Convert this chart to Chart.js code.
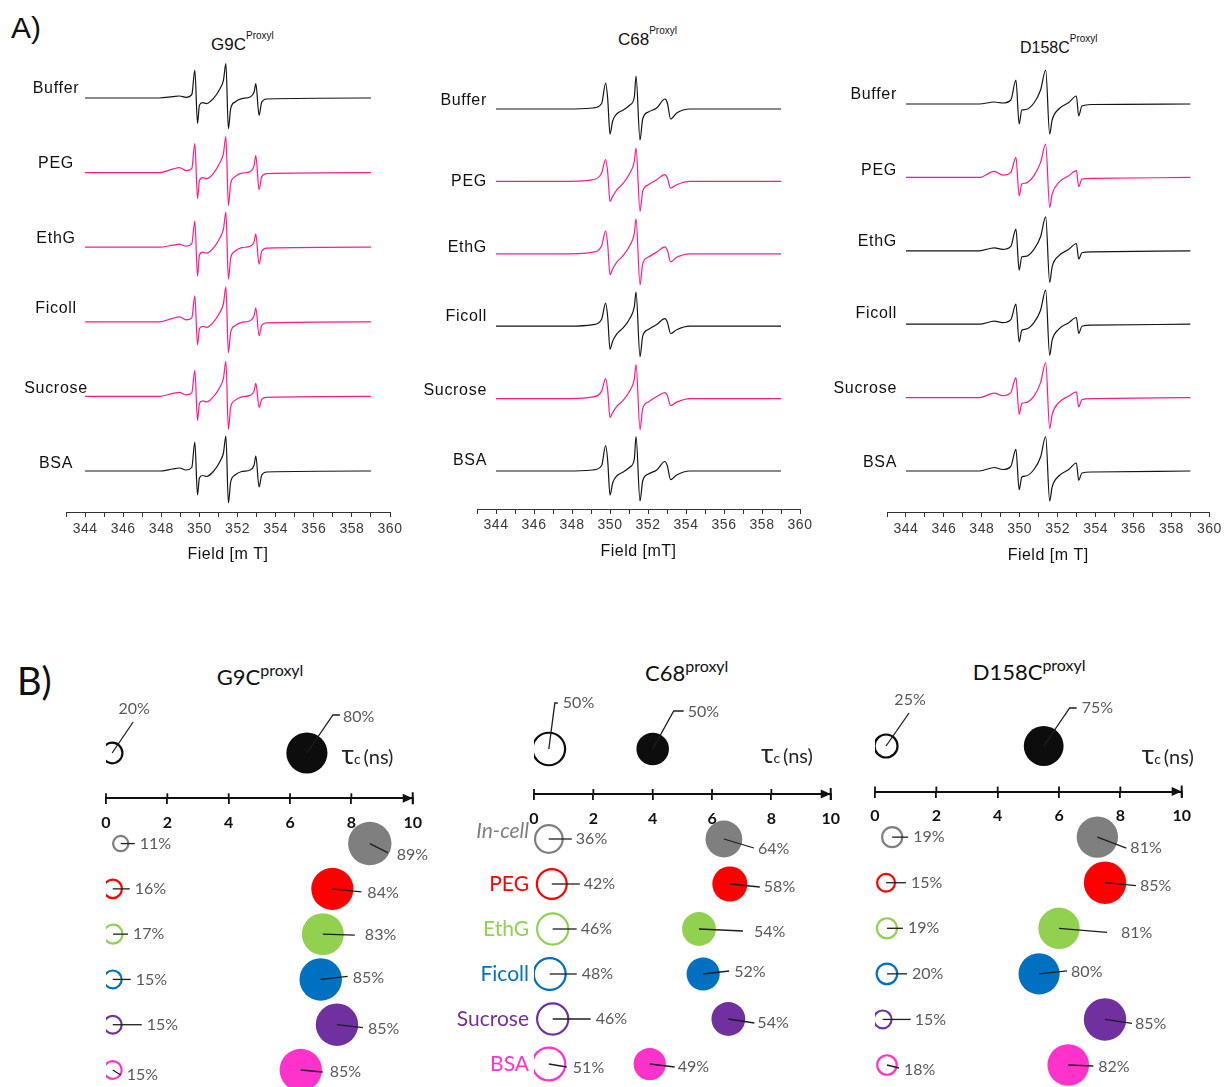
<!DOCTYPE html>
<html>
<head>
<meta charset="utf-8">
<script src="https://cdn.jsdelivr.net/npm/chart.js@4.4.1/dist/chart.umd.min.js"></script>
<style>
  html, body { margin: 0; padding: 0; background: #fff; }
  #page { position: relative; width: 1225px; height: 1087px; overflow: hidden; background: #fff; }
  #page canvas { position: absolute; }
  .lbl { position: absolute; white-space: nowrap; line-height: 1; color: #111; }
  .ta { font-family: "Liberation Sans", Arial, sans-serif; }
  .tb { font-family: Lato, "Open Sans", sans-serif; }
  .supA { font-size: 10px; position: relative; top: -11px; }
  .supB { font-size: 16px; position: relative; top: -9px; }
</style>
</head>
<body>
<div id="page">
  <div class="lbl ta" style="left:11px;top:13px;font-size:30px;">A)</div>
  <div class="lbl ta" style="left:211px;top:35.6px;font-size:17px;">G9C<span class="supA">Proxyl</span></div>
  <div class="lbl ta" style="left:618px;top:30.6px;font-size:17px;">C68<span class="supA">Proxyl</span></div>
  <div class="lbl ta" style="left:1020px;top:39.5px;font-size:16px;">D158C<span class="supA">Proxyl</span></div>

  <div class="lbl tb" style="left:17px;top:661px;font-size:38px;">B)</div>
  <div class="lbl tb" style="left:216.7px;top:666.2px;font-size:22px;">G9C<span class="supB">proxyl</span></div>
  <div class="lbl tb" style="left:645px;top:662.2px;font-size:22px;">C68<span class="supB">proxyl</span></div>
  <div class="lbl tb" style="left:972.7px;top:660.5px;font-size:22px;">D158C<span class="supB">proxyl</span></div>
</div>

<script>
// ===================== Part A: CW-EPR spectra =====================
const conditionsA = ['Buffer', 'PEG', 'EthG', 'Ficoll', 'Sucrose', 'BSA'];
const fieldTicks = [344, 346, 348, 350, 352, 354, 356, 358, 360];

// G9C-proxyl: magnetic field (mT) and derivative intensity for each condition
const fieldG9C = [344, 347.9, 348.6, 348.95, 349.3, 349.6, 349.76, 349.9, 350.0, 350.17, 350.38, 350.73, 351.08, 351.26, 351.39, 351.52, 351.64, 351.87, 352.22, 352.66, 352.87, 352.96, 353.13, 353.27, 353.53, 359];
const g9cBuffer  = [0, 0, 1.3, 2, 0.7, 3.3, 28, -25.5, -7.3, -4.7, -5.6, -0.6, 9.3, 17.7, 34.3, -30.6, -10.7, -4, -0.6, 1, 6, 14.3, -17.3, -4, -1, 0];
const g9cPEG     = [0, 0, 3.5, 5, 2, 4, 29, -26, -8, -5, -6, -1, 10, 19, 36, -33, -11, -4, -0.5, 1, 7, 17, -17, -4, -1, 0];
const g9cEthG    = [0, 0, 2, 3, 1, 3.5, 26, -29, -8, -5, -6, -1, 9.5, 18, 35, -32, -11, -4, -0.5, 1, 5.5, 13, -17, -4, -1, 0];
const g9cFicoll  = [0, 0, 3.5, 5, 2, 4, 26, -23, -7, -4.5, -5.5, -0.5, 9.5, 18, 35, -31, -10.5, -4, -0.5, 1, 6, 14, -14, -3.5, -1, 0];
const g9cSucrose = [0, 0, 3, 4, 1.5, 3.5, 26, -24, -7, -4.5, -5.5, -0.5, 9.5, 18, 35, -33, -11, -4, -0.5, 1, 5.5, 13, -11, -3, -1, 0];
const g9cBSA     = [0, 0, 2, 3, 1, 3.5, 29, -24, -7, -4.5, -5.5, -0.5, 9.5, 18, 35, -32, -11, -4, -0.5, 1, 6, 15, -16, -4, -1, 0];

// C68-proxyl
const fieldC68 = [344, 347.9, 349.1, 349.56, 349.77, 349.88, 350.0, 350.14, 350.35, 350.7, 351.05, 351.28, 351.37, 351.58, 351.72, 352.02, 352.46, 352.89, 353.02, 353.19, 353.51, 354.2, 359];
const c68Buffer  = [0, 0, 1, 5.5, 26, 10, -25, -12, -5, -1, 4, 12, 33, -31, -10, -3, 1, 10, 6, -10, -4, 0, 0];
const c68PEG     = [0, 0, 1.7, 8.3, 21.7, 9, -20, -15, -8.7, -1.7, 8.3, 20, 33.3, -30, -10, -3.3, 1.7, 6.7, 3.3, -6.7, -3.3, 0, 0];
const c68EthG    = [0, 0, 1.7, 8, 23, 9, -21, -15, -8.5, -1.5, 8.5, 20.5, 35, -31, -10, -3.3, 1.7, 7, 3.5, -8, -3.5, 0, 0];
const c68Ficoll  = [0, 0, 1.5, 7, 23, 9, -23, -15, -8, -1.5, 8, 19.5, 34, -30.5, -10, -3.3, 1.7, 7.5, 4, -7.3, -3.5, 0, 0];
const c68Sucrose = [0, 0, 1.7, 7.5, 20, 8, -19, -14, -8, -1.5, 8, 19.5, 34, -31, -10, -3.3, 2, 6, 3, -7, -3.5, 0, 0];
const c68BSA     = [0, 0, 1, 5.5, 25.5, 10, -24, -12, -5, -1, 4, 12, 34.5, -30, -10, -3, 1, 9.5, 5, -8.7, -4, 0, 0];

// D158C-proxyl
const fieldD158C = [344, 347.87, 348.66, 349.1, 349.53, 349.8, 349.97, 350.11, 350.32, 350.75, 351.1, 351.37, 351.58, 351.71, 352.06, 352.59, 352.99, 353.11, 353.28, 353.8, 359];
const d158Buffer  = [0, 0, 2, 1, 4, 24, -20, -6, -5.5, 1, 14, 34, -30, -16, -5, 1.5, 8, -12, -2, -0.5, 0];
const d158PEG     = [0, 0, 6, 2.3, 5, 20, -18.3, -6.7, -5.7, 1.7, 15, 33.3, -30, -16.7, -5, 1.7, 6.7, -9.3, -1.7, -1, 0];
const d158EthG    = [0, 0, 3, 1.5, 4.5, 21.7, -19.3, -6, -5.5, 1.5, 14, 34, -31.5, -16, -5, 1.5, 7.3, -8.3, -2, -1, 0];
const d158Ficoll  = [0, 0, 3, 1.5, 4.5, 20, -17.7, -6, -5, 1.5, 14, 34, -31, -16, -5, 1.5, 6.7, -9.3, -2, -1, 0];
const d158Sucrose = [0, 0, 4.5, 2, 5, 20, -16.7, -6, -5, 1.5, 15, 35, -31, -17, -5, 1.5, 5.7, -9.3, -2, -1, 0];
const d158BSA     = [0, 0, 3.5, 1.5, 4.5, 21.7, -18.7, -6, -5, 1.5, 14, 34.5, -30, -16, -5, 1.5, 8, -9.3, -2, -1, 0];

// ===================== Part B: rotational correlation times =====================
const rowsB = ['Buffer', 'In-cell', 'PEG', 'EthG', 'Ficoll', 'Sucrose', 'BSA'];
const tauTicks = [0, 2, 4, 6, 8, 10];

const g9cTauFast = [0.2, 0.48, 0.22, 0.23, 0.22, 0.22, 0.22];
const g9cTauSlow = [6.55, 8.6, 7.38, 7.07, 7.0, 7.53, 6.35];
const g9cPctFast = [20, 11, 16, 17, 15, 15, 15];
const g9cPctSlow = [80, 89, 84, 83, 85, 85, 85];

const c68TauFast = [0.5, 0.5, 0.6, 0.63, 0.53, 0.63, 0.5];
const c68TauSlow = [4.0, 6.4, 6.6, 5.56, 5.7, 6.55, 3.9];
const c68PctFast = [50, 36, 42, 46, 48, 46, 51];
const c68PctSlow = [50, 64, 58, 54, 52, 54, 49];

const d158TauFast = [0.36, 0.56, 0.36, 0.39, 0.39, 0.25, 0.39];
const d158TauSlow = [5.5, 7.25, 7.5, 6.0, 5.35, 7.5, 6.3];
const d158PctFast = [25, 19, 15, 19, 20, 15, 18];
const d158PctSlow = [75, 81, 85, 81, 80, 85, 82];

// ---------------- styling ----------------
const BLACK = '#151515';
const PINK = '#ff1a8c';
const rowColorsB = ['#0d0d0d', '#7f7f7f', '#ff0000', '#92d050', '#0070c0', '#7030a0', '#ff33cc'];
const FONT_A = '"Liberation Sans", Arial, sans-serif';
const FONT_B = 'Lato, "Open Sans", sans-serif';

Chart.defaults.font.family = FONT_B;

const page = document.getElementById('page');
function placeCanvas(box) {
  const c = document.createElement('canvas');
  c.width = box.width; c.height = box.height;
  c.style.left = box.left + 'px'; c.style.top = box.top + 'px';
  c.style.width = box.width + 'px'; c.style.height = box.height + 'px';
  page.appendChild(c);
  return c;
}

// condition names at the left of each stacked trace
const traceLabelPlugin = {
  id: 'traceLabels',
  beforeDraw(chart) { chart.ctx.letterSpacing = '0.5px'; },
  afterDatasetsDraw(chart, args, o) {
    const ctx = chart.ctx, y = chart.scales.y;
    ctx.save();
    ctx.letterSpacing = '0.7px';
    ctx.font = '16px ' + FONT_A;
    ctx.fillStyle = '#111';
    ctx.textAlign = o.align;
    ctx.textBaseline = 'middle';
    o.names.forEach((n, i) => ctx.fillText(n, o.x, y.getPixelForValue(o.offsets[i]) + o.dy[i]));
    ctx.restore();
  }
};

function makeSpectrumChart(box, spec) {
  const canvas = placeCanvas(box);
  const yMax = box.axisY - box.top;
  const base = box.axisY - box.lastBaseline;
  const n = spec.traces.length;
  const offsets = spec.traces.map((t, i) => base + (n - 1 - i) * box.spacing);
  const datasets = spec.traces.map((amp, i) => ({
    data: spec.field.map((f, k) => ({ x: f, y: offsets[i] + amp[k] })),
    borderColor: spec.colors[i],
    borderWidth: 1.2,
    pointRadius: 0,
    cubicInterpolationMode: 'monotone',
    fill: false,
    clip: false
  }));
  new Chart(canvas, {
    type: 'line',
    data: { datasets },
    options: {
      responsive: false, animation: false, events: [],
      layout: { autoPadding: false, padding: { left: box.px343 - box.left, right: box.left + box.width - box.px360, top: 0, bottom: 0 } },
      scales: {
        x: {
          type: 'linear', min: 343, max: 360,
          afterFit: s => { s.height = box.top + box.height - box.axisY; },
          ticks: {
            stepSize: 1, autoSkip: false, maxRotation: 0, padding: box.tickPad,
            color: '#3a3a3a', font: { family: FONT_A, size: 14 },
            callback: v => (fieldTicks.includes(v) ? String(v) : '')
          },
          grid: { drawOnChartArea: false, drawTicks: true, tickLength: 5, color: '#333', lineWidth: 1 },
          border: { display: true, color: '#333', width: 1 },
          title: { display: true, text: spec.xTitle, color: '#111', font: { family: FONT_A, size: 16 }, padding: { top: 0, bottom: box.titlePad } }
        },
        y: { type: 'linear', display: false, min: 0, max: yMax }
      },
      plugins: {
        legend: { display: false }, tooltip: { enabled: false },
        traceLabels: { names: conditionsA, offsets, x: box.labelX, align: box.labelAlign, dy: box.labelDy }
      }
    },
    plugins: [traceLabelPlugin]
  });
}

makeSpectrumChart(
  { left: 0, top: 50, width: 410, height: 525, axisY: 512, px343: 66, px360: 390, lastBaseline: 471, spacing: 74.6,
    tickPad: 4, titlePad: 11, labelX: 56, labelAlign: 'center', labelDy: [-9, -9, -9, -13, -8, -7] },
  { field: fieldG9C, traces: [g9cBuffer, g9cPEG, g9cEthG, g9cFicoll, g9cSucrose, g9cBSA],
    colors: [BLACK, PINK, PINK, PINK, PINK, BLACK], xTitle: 'Field [m T]' }
);
makeSpectrumChart(
  { left: 412, top: 50, width: 410, height: 525, axisY: 509, px343: 477, px360: 800, lastBaseline: 471, spacing: 72.4,
    tickPad: 3, titlePad: 14, labelX: 75, labelAlign: 'right', labelDy: [-8, 0, -6, -10, -8, -10] },
  { field: fieldC68, traces: [c68Buffer, c68PEG, c68EthG, c68Ficoll, c68Sucrose, c68BSA],
    colors: [BLACK, PINK, PINK, BLACK, PINK, BLACK], xTitle: 'Field [mT]' }
);
makeSpectrumChart(
  { left: 825, top: 50, width: 400, height: 525, axisY: 512, px343: 887, px360: 1211.7, lastBaseline: 471, spacing: 73.4,
    tickPad: 4, titlePad: 10, labelX: 72, labelAlign: 'right', labelDy: [-9, -7, -9, -11, -9, -8] },
  { field: fieldD158C, traces: [d158Buffer, d158PEG, d158EthG, d158Ficoll, d158Sucrose, d158BSA],
    colors: [BLACK, PINK, BLACK, BLACK, PINK, BLACK], xTitle: 'Field [m T]' }
);

// ---------------- part B decorations ----------------
// leader: [points relative to bubble centre], [text offset], alignment
const leadersG9C = {
  fast: [[[[21, -31]], [22, -44], 'center'], [[[14, 0]], [19, 0]], [[[17, 0]], [22, 0]], [[[15, 0]], [20, 0]],
         [[[18, 0]], [23, 0]], [[[29, 0]], [34, 0]], [[[8, 5]], [14, 5]]],
  slow: [[[[26, -38], [33, -38]], [36, -36]], [[[18, 9]], [27, 11]], [[[29, 3]], [35, 4]], [[[32, 1]], [42, 1]],
         [[[27, -3]], [32, -2]], [[[26, 3]], [31, 4]], [[[22, 2]], [29, 2]]]
};
const leadersC68 = {
  fast: [[[[6, -46], [9, -46]], [14, -46]], [[[23, 0]], [27, 0]], [[[28, 0]], [32, 0]], [[[24, 0]], [28, 0]],
         [[[27, 0]], [32, 0]], [[[38, 0]], [43, 0]], [[[18, 3]], [24, 4]]],
  slow: [[[[21, -38], [31, -38]], [35, -37]], [[[30, 9]], [34, 10]], [[[30, 3]], [34, 3]], [[[44, 2]], [55, 3]],
         [[[26, -3]], [31, -2]], [[[26, 4]], [29, 4]], [[[25, 3]], [28, 3]]]
};
const leadersD158C = {
  fast: [[[[23, -33]], [24, -46], 'center'], [[[16, 0]], [21, 0]], [[[20, 0]], [25, 0]], [[[16, 0]], [21, 0]],
         [[[20, 0]], [25, 0]], [[[28, 0]], [32, 0]], [[[12, 3]], [17, 5]]],
  slow: [[[[26, -38], [33, -38]], [38, -38]], [[[29, 11]], [33, 11]], [[[31, 3]], [35, 3]], [[[48, 4]], [62, 5]],
         [[[28, -3]], [32, -2]], [[[27, 4]], [30, 4]], [[[25, 1]], [30, 2]]]
};

const tauPlugin = {
  id: 'tauDecor',
  afterDraw(chart, args, o) {
    const { ctx, scales: { x, y } } = chart;
    const ay = y.getPixelForValue(1);
    ctx.save();
    // upper halves of the axis tick marks
    ctx.strokeStyle = '#111'; ctx.fillStyle = '#111'; ctx.lineWidth = 1.8;
    tauTicks.forEach(v => {
      if (v >= 10) return;
      const px = x.getPixelForValue(v);
      ctx.beginPath(); ctx.moveTo(px, ay - 5); ctx.lineTo(px, ay); ctx.stroke();
    });
    // arrow head and end bar
    const pe = x.getPixelForValue(10);
    ctx.beginPath(); ctx.moveTo(pe, ay); ctx.lineTo(pe - 10, ay - 4.5); ctx.lineTo(pe - 10, ay + 4.5); ctx.closePath(); ctx.fill();
    ctx.lineWidth = 2;
    ctx.beginPath(); ctx.moveTo(pe, ay - 6); ctx.lineTo(pe, ay + 6); ctx.stroke();

    // axis name
    const tx = x.getPixelForValue(o.tau.x), tyb = y.getPixelForValue(o.tau.y) + 6;
    ctx.textBaseline = 'alphabetic'; ctx.textAlign = 'left'; ctx.fillStyle = '#262626';
    ctx.font = '26px "Noto Sans", "Open Sans", sans-serif';
    ctx.fillText('τ', tx, tyb);
    ctx.font = '14px ' + FONT_B;
    ctx.fillText('c', tx + 12.5, tyb);
    ctx.font = '20px ' + FONT_B;
    ctx.fillText('(ns)', tx + 22, tyb);

    // leader lines and percentages
    ctx.strokeStyle = '#1e1e1e'; ctx.lineWidth = 1.3;
    ctx.font = '16px ' + FONT_B; ctx.fillStyle = '#595959'; ctx.textBaseline = 'middle';
    [o.leaders.fast, o.leaders.slow].forEach((specs, di) => {
      const meta = chart.getDatasetMeta(di);
      specs.forEach((s, j) => {
        const el = meta.data[j];
        const cx = el.x, cy = el.y;
        ctx.beginPath(); ctx.moveTo(cx, cy);
        s[0].forEach(([dx, dy]) => ctx.lineTo(cx + dx, cy + dy));
        ctx.stroke();
        ctx.textAlign = s[2] || 'left';
        ctx.fillText(o.pct[di][j] + '%', cx + s[1][0], cy + s[1][1]);
      });
    });

    // condition names
    if (o.rowLabels) {
      ctx.textAlign = 'right'; ctx.textBaseline = 'middle';
      const lx = x.getPixelForValue(0) - 5;
      rowsB.forEach((name, i) => {
        if (i === 0) return;
        ctx.font = (i === 1 ? 'italic ' : '') + '21px ' + FONT_B;
        ctx.fillStyle = rowColorsB[i];
        ctx.fillText(name, lx, y.getPixelForValue(i + 1) + (i === 1 ? -8 : 0));
      });
    }
    ctx.restore();
  }
};

function makeTauChart(box, panel) {
  const canvas = placeCanvas(box);
  const unit = (box.pyBottom - box.pyTop) / 7;
  const yMin = -(box.pyTop - box.top) / unit;
  const yMax = 7 + (box.top + box.height - box.pyBottom) / unit;
  const rowY = i => (i === 0 ? 0 : i + 1);
  const radius = p => 2.3 * Math.sqrt(p);
  const fast = panel.tauFast.map((t, i) => ({ x: t, y: rowY(i), r: radius(panel.pctFast[i]) }));
  const slow = panel.tauSlow.map((t, i) => ({ x: t, y: rowY(i), r: radius(panel.pctSlow[i]) }));
  const clip = { left: 0, top: false, right: false, bottom: false };
  new Chart(canvas, {
    type: 'bubble',
    data: {
      datasets: [
        { label: 'fast', data: fast, backgroundColor: 'rgba(255,255,255,0)', borderColor: rowColorsB, borderWidth: 2.2, clip },
        { label: 'slow', data: slow, backgroundColor: rowColorsB, borderColor: rowColorsB, borderWidth: 0, clip }
      ]
    },
    options: {
      responsive: false, animation: false, events: [],
      layout: { autoPadding: false, padding: { left: box.px0 - box.left, right: box.left + box.width - box.px10, top: 0, bottom: 0 } },
      scales: {
        x: {
          type: 'linear', min: 0, max: 10, position: { y: 1 },
          afterBuildTicks: s => { s.ticks = tauTicks.map(v => ({ value: v })); },
          ticks: { autoSkip: false, maxRotation: 0, padding: 10, color: '#111', font: { family: FONT_B, size: 16, weight: 'bold' } },
          grid: { drawOnChartArea: false, drawTicks: true, tickLength: 5, color: '#111', lineWidth: 1.8 },
          border: { display: true, color: '#111', width: 2 }
        },
        y: { type: 'linear', display: false, min: yMin, max: yMax, reverse: true }
      },
      plugins: {
        legend: { display: false }, tooltip: { enabled: false },
        tauDecor: { leaders: panel.leaders, pct: [panel.pctFast, panel.pctSlow], tau: panel.tau, rowLabels: panel.rowLabels }
      }
    },
    plugins: [tauPlugin]
  });
}

makeTauChart(
  { left: 0, top: 645, width: 432, height: 442, px0: 106, px10: 413, pyTop: 753, pyBottom: 1070 },
  { tauFast: g9cTauFast, tauSlow: g9cTauSlow, pctFast: g9cPctFast, pctSlow: g9cPctSlow,
    leaders: leadersG9C, tau: { x: 7.68, y: 0.11 }, rowLabels: false }
);
makeTauChart(
  { left: 420, top: 645, width: 430, height: 442, px0: 534, px10: 838.3, pyTop: 749, pyBottom: 1064 },
  { tauFast: c68TauFast, tauSlow: c68TauSlow, pctFast: c68PctFast, pctSlow: c68PctSlow,
    leaders: leadersC68, tau: { x: 7.65, y: 0.18 }, rowLabels: true }
);
makeTauChart(
  { left: 845, top: 645, width: 380, height: 442, px0: 875, px10: 1181.7, pyTop: 746, pyBottom: 1065 },
  { tauFast: d158TauFast, tauSlow: d158TauSlow, pctFast: d158PctFast, pctSlow: d158PctSlow,
    leaders: leadersD158C, tau: { x: 8.7, y: 0.26 }, rowLabels: false }
);
</script>
</body>
</html>
